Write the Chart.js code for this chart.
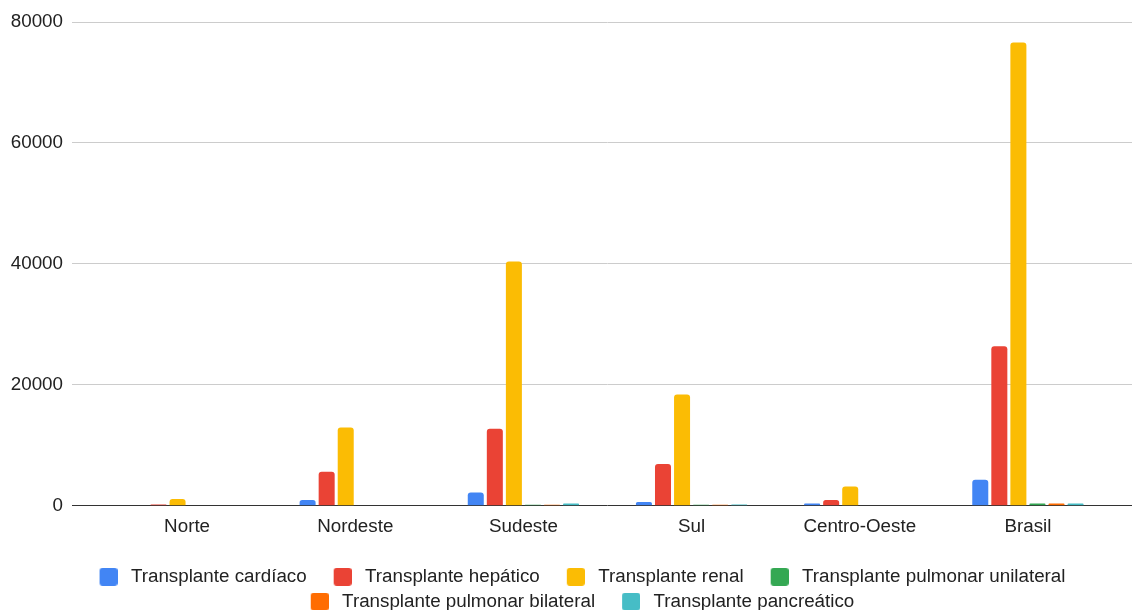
<!DOCTYPE html>
<html>
<head>
<meta charset="utf-8">
<script src="https://cdn.jsdelivr.net/npm/chart.js@4/dist/chart.umd.min.js"></script>
<style>
html,body{margin:0;padding:0;background:#fff;}
#wrap{width:1132px;height:610px;}
</style>
</head>
<body>
<div id="wrap"><canvas id="c" width="1132" height="610"></canvas></div>
<script>
const categories = ["Norte", "Nordeste", "Sudeste", "Sul", "Centro-Oeste", "Brasil"];
const seriesNames = ["Transplante cardíaco", "Transplante hepático", "Transplante renal", "Transplante pulmonar unilateral", "Transplante pulmonar bilateral", "Transplante pancreático"];
const cardiaco = [0, 950, 2200, 650, 400, 4300];
const hepatico = [220, 5650, 12750, 6900, 950, 26400];
const renal = [1150, 12950, 40400, 18400, 3200, 76600];
const pulmonarUnilateral = [0, 0, 200, 200, 0, 380];
const pulmonarBilateral = [0, 0, 200, 200, 0, 380];
const pancreatico = [0, 0, 380, 220, 0, 400];
const yTicks = [0, 20000, 40000, 60000, 80000];

const colors = ["#4285F4", "#EA4335", "#FBBC04", "#34A853", "#FF6D01", "#46BDC6"];
const seriesValues = [cardiaco, hepatico, renal, pulmonarUnilateral, pulmonarBilateral, pancreatico];

const FONT = "'Liberation Sans', Arial, sans-serif";
const FS = 18.8;
const gridColor = ctx => (ctx.tick && ctx.tick.value === 0) ? "#333333" : "#cccccc";

// legend markers: rounded square drawn on the right part of a wider transparent canvas
function makeMarker(color) {
  const c = document.createElement("canvas");
  c.width = 35; c.height = 18;
  const g = c.getContext("2d");
  g.fillStyle = color;
  g.beginPath();
  if (g.roundRect) g.roundRect(17, 0, 18, 18, 3); else g.rect(17, 0, 18, 18);
  g.fill();
  return c;
}
const markers = colors.map(makeMarker);

const legendShift = {
  id: "legendShift",
  afterLayout(chart) {
    const lg = chart.legend;
    if (!lg) return;
    const dx = 6, dy = 13;
    lg.left += dx; lg.right += dx;
    lg.top += dy; lg.bottom += dy;
  }
};

new Chart(document.getElementById("c"), {
  type: "bar",
  data: {
    labels: categories,
    datasets: seriesValues.map((vals, i) => ({
      label: seriesNames[i],
      data: vals,
      backgroundColor: colors[i],
      borderColor: colors[i],
      borderWidth: 0,
      borderRadius: 3,
      categoryPercentage: 0.68,
      barPercentage: 0.84
    }))
  },
  plugins: [legendShift],
  options: {
    responsive: false,
    animation: false,
    devicePixelRatio: 1,
    layout: { padding: { left: 0, right: 0, top: 22, bottom: 2 } },
    plugins: {
      tooltip: { enabled: false },
      legend: {
        position: "bottom",
        align: "center",
        labels: {
          font: { family: FONT, size: FS },
          color: "#222222",
          usePointStyle: true,
          pointStyleWidth: 43,
          boxHeight: 18,
          padding: 6,
          generateLabels: chart => {
            const items = Chart.defaults.plugins.legend.labels.generateLabels(chart);
            items.forEach((it, i) => { it.pointStyle = markers[i]; });
            return items;
          }
        }
      }
    },
    scales: {
      x: {
        grid: { display: false, drawTicks: false },
        border: { display: false },
        ticks: { font: { family: FONT, size: FS }, color: "#222222", padding: 10 }
      },
      y: {
        position: "left",
        min: 0, max: 80000,
        afterBuildTicks: s => { s.ticks = yTicks.map(v => ({ value: v })); },
        afterFit: s => { s.width = 103; },
        grid: { color: gridColor, tickColor: gridColor, lineWidth: 1, drawTicks: true, tickLength: 31 },
        border: { display: false },
        ticks: { font: { family: FONT, size: FS }, color: "#222222", padding: 9, callback: v => String(v) }
      },
      y2: {
        position: "right",
        min: 0, max: 80000,
        afterBuildTicks: s => { s.ticks = yTicks.map(v => ({ value: v })); },
        grid: { color: gridColor, tickColor: gridColor, drawOnChartArea: false, drawTicks: true, tickLength: 20 },
        border: { display: false },
        ticks: { display: false }
      }
    }
  }
});
</script>
</body>
</html>
